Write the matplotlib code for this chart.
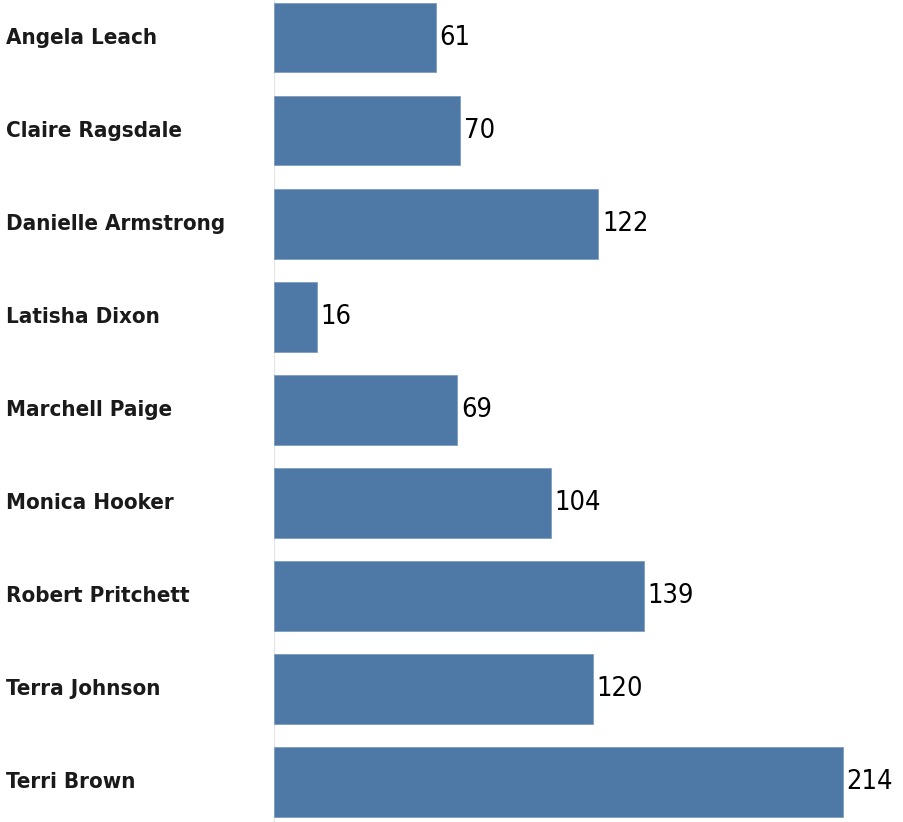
import matplotlib
matplotlib.use('Agg')
import matplotlib.pyplot as plt
from matplotlib.transforms import blended_transform_factory

names = ['Angela Leach', 'Claire Ragsdale', 'Danielle Armstrong', 'Latisha Dixon',
         'Marchell Paige', 'Monica Hooker', 'Robert Pritchett', 'Terra Johnson', 'Terri Brown']
values = [61, 70, 122, 16, 69, 104, 139, 120, 214]

plt.rcParams['font.family'] = ['DejaVu Sans']
plt.rcParams['font.stretch'] = 'condensed'

fig = plt.figure(figsize=(9.04, 8.22), dpi=100)
ax = fig.add_axes([274 / 904, 0, 1 - 274 / 904, 1])

pos = list(range(len(names)))
ax.barh(pos, values, height=0.75, color='#4e79a7', edgecolor='#7f9cc0', linewidth=0.6, zorder=2)
ax.set_ylim(8.43, -0.403)
ax.set_xlim(0, 236.9)
ax.axvline(0, color='#e6e6e6', linewidth=1, zorder=1)

for y, v in zip(pos, values):
    ax.text(v + 1.3, y, str(v), va='center', ha='left', fontsize=19.5,
            stretch='condensed', color='black')

trans = blended_transform_factory(fig.transFigure, ax.transData)
for y, n in zip(pos, names):
    ax.text(6 / 904, y, n, transform=trans, va='center', ha='left',
            fontsize=16, fontweight='bold', stretch='condensed', color='#1a1a1a')

for s in ax.spines.values():
    s.set_visible(False)
ax.set_xticks([])
ax.set_yticks([])

plt.savefig('out.png', dpi=100)
